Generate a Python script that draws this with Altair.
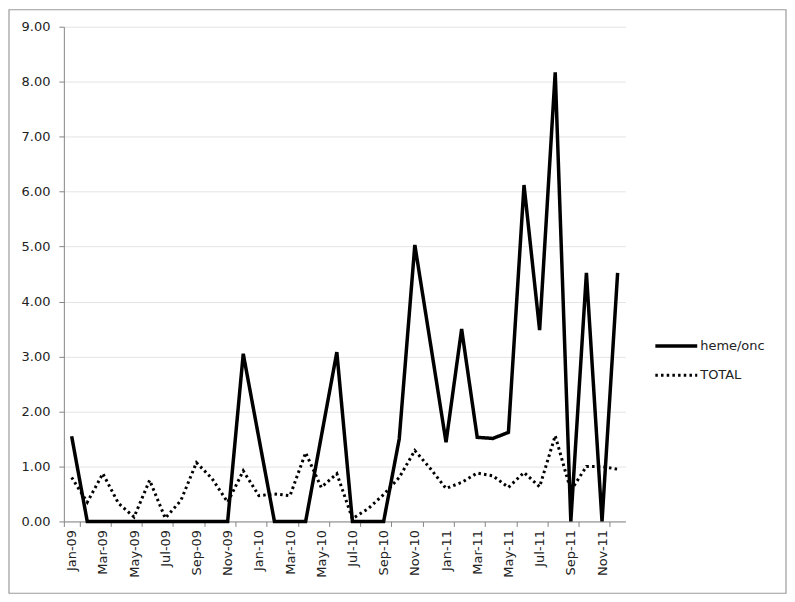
import altair as alt
import pandas as pd

months = ["Jan-09", "Feb-09", "Mar-09", "Apr-09", "May-09", "Jun-09", "Jul-09", "Aug-09",
          "Sep-09", "Oct-09", "Nov-09", "Dec-09",
          "Jan-10", "Feb-10", "Mar-10", "Apr-10", "May-10", "Jun-10", "Jul-10", "Aug-10",
          "Sep-10", "Oct-10", "Nov-10", "Dec-10",
          "Jan-11", "Feb-11", "Mar-11", "Apr-11", "May-11", "Jun-11", "Jul-11", "Aug-11",
          "Sep-11", "Oct-11", "Nov-11", "Dec-11"]

heme_onc = [1.55, 0, 0, 0, 0, 0, 0, 0, 0, 0, 0, 3.05,
            1.52, 0, 0, 0, 1.54, 3.08, 0, 0, 0, 1.50, 5.03, 3.24,
            1.44, 3.50, 1.53, 1.51, 1.62, 6.12, 3.48, 8.17, 0, 4.52, 0, 4.52]

total = [0.80, 0.35, 0.87, 0.33, 0.08, 0.75, 0.06, 0.38, 1.07, 0.78, 0.35, 0.92,
         0.47, 0.50, 0.47, 1.25, 0.62, 0.87, 0.05, 0.23, 0.49, 0.80, 1.29, 0.96,
         0.60, 0.71, 0.88, 0.83, 0.62, 0.89, 0.63, 1.56, 0.56, 1.00, 1.00, 0.95]

series_names = ["heme/onc", "TOTAL"]
label_months = months[::2]

rows = []
for name, vals in zip(series_names, [heme_onc, total]):
    for m, v in zip(months, vals):
        rows.append({"month": m, "value": v, "series": name})
df = pd.DataFrame(rows)

FONT = "DejaVu Sans"
W, H = 563, 496

lines = alt.Chart(df).mark_line(strokeCap="butt", strokeJoin="miter").encode(
    x=alt.X("month:N", sort=months, title=None,
            scale=alt.Scale(domain=months, paddingInner=0, paddingOuter=0),
            axis=alt.Axis(values=label_months, labelAngle=-90, tickBand="extent",
                          tickSize=5, labelPadding=3, domainColor="#868686",
                          tickColor="#868686", grid=False)),
    y=alt.Y("value:Q", title=None,
            scale=alt.Scale(domain=[0, 9], nice=False),
            axis=alt.Axis(values=list(range(0, 10)), format=".2f", tickSize=5,
                          labelPadding=9, domainColor="#868686", tickColor="#868686",
                          gridColor="#e4e4e4")),
    strokeDash=alt.StrokeDash("series:N", sort=series_names,
                              scale=alt.Scale(domain=series_names, range=[[1, 0], [2.5, 3.2]]),
                              legend=alt.Legend(title=None, orient="none", legendX=591,
                                                legendY=297, symbolType="stroke",
                                                symbolSize=1764, symbolStrokeWidth=3.5,
                                                symbolStrokeColor="black",
                                                labelFont=FONT, labelFontSize=13,
                                                labelColor="#222", rowPadding=-8,
                                                labelOffset=1)),
    strokeWidth=alt.StrokeWidth("series:N", sort=series_names,
                                scale=alt.Scale(domain=series_names, range=[3.5, 3]),
                                legend=None),
    color=alt.value("black"),
    detail="series:N",
)

border = alt.Chart(pd.DataFrame({"b": [0]})).mark_rect(
    fill=None, stroke="#9a9a9a", strokeWidth=1.2
).encode(
    x=alt.value(-55), x2=alt.value(W + 161),
    y=alt.value(-17), y2=alt.value(H + 72),
)

chart = alt.layer(border, lines).properties(
    width=W, height=H, padding=0
).configure_view(stroke=None).configure_axis(
    labelFont=FONT, labelFontSize=13, labelColor="#222"
)

chart.save("out.html", embed_options={"renderer": "svg", "actions": False})
